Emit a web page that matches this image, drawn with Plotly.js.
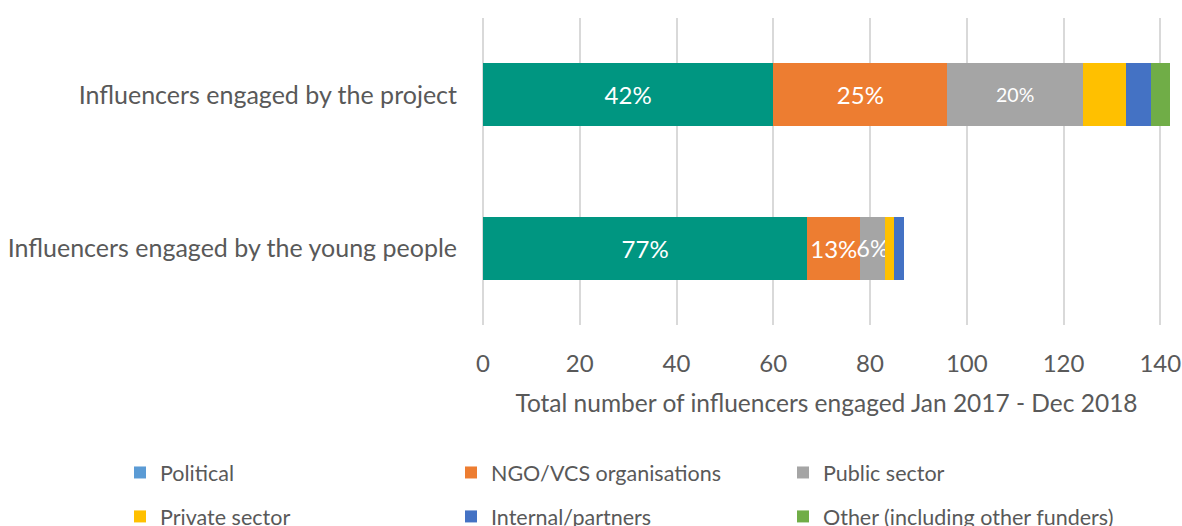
<!DOCTYPE html>
<html>
<head>
<meta charset="utf-8">
<script src="https://cdn.plot.ly/plotly-3.0.1.min.js"></script>
<style>html,body{margin:0;padding:0;background:#fff;}#chart{width:1182px;height:526px;}</style>
</head>
<body>
<div id="chart"></div>
<script>
const categories = ["Influencers engaged by the project", "Influencers engaged by the young people"];
const seriesNames = ["Political", "NGO/VCS organisations", "Public sector", "Private sector", "Internal/partners", "Other (including other funders)"];
const political = [60, 67];
const ngo = [36, 11];
const publicSector = [28, 5];
const privateSector = [9, 2];
const internalPartners = [5, 2];
const other = [4, 0];
const xTicks = [0, 20, 40, 60, 80, 100, 120, 140];
const xTitle = "Total number of influencers engaged Jan 2017 - Dec 2018";

const allSeries = [political, ngo, publicSector, privateSector, internalPartners, other];
const totals = categories.map((c, i) => allSeries.reduce((s, arr) => s + arr[i], 0));
const pct = arr => arr.map((v, i) => Math.round(v / totals[i] * 100) + '%');

const colors = ["#009681", "#ED7D31", "#A5A5A5", "#FFC000", "#4472C4", "#70AD47"];
const legendPoliticalColor = "#5B9BD5";
const font = "Lato, 'Open Sans', sans-serif";
const textCol = "#595959";
// legend column for each series: Political/Private | NGO/Internal | Public/Other
const legendOf = ['legend', 'legend2', 'legend3', 'legend', 'legend2', 'legend3'];

function barTrace(idx, vals, opts) {
  return Object.assign({
    type: 'bar', orientation: 'h', name: seriesNames[idx],
    y: categories, x: vals,
    marker: {color: colors[idx], line: {width: 0}},
    hoverinfo: 'x+name',
    legend: legendOf[idx], legendgroup: 'g' + idx,
    textangle: 0,
    cliponaxis: false
  }, opts || {});
}

const labelOpts = (vals, sizes) => ({
  text: pct(vals), textposition: 'inside', insidetextanchor: 'middle', constraintext: 'none',
  textfont: {color: '#ffffff', size: sizes, family: font}
});

const traces = [
  // legend-only swatch for Political (its legend swatch differs from the bar colour)
  {type: 'bar', orientation: 'h', name: seriesNames[0], y: [null], x: [null],
   marker: {color: legendPoliticalColor}, legend: 'legend', legendgroup: 'g0', hoverinfo: 'skip'},
  barTrace(0, political, Object.assign({showlegend: false}, labelOpts(political, 24))),
  barTrace(1, ngo, labelOpts(ngo, 24)),
  barTrace(2, publicSector, labelOpts(publicSector, [19.5, 23])),
  barTrace(3, privateSector),
  barTrace(4, internalPartners),
  barTrace(5, other)
];

function legendCol(xpx) {
  return {
    orientation: 'v', xref: 'container', yref: 'container',
    x: xpx / 1182, y: 1 - 452 / 526, xanchor: 'left', yanchor: 'top',
    traceorder: 'grouped', tracegroupgap: 13,
    font: {size: 21.5, color: textCol, family: font}, bgcolor: 'rgba(0,0,0,0)'
  };
}

const layout = {
  width: 1182, height: 526,
  margin: {l: 483, r: 12, t: 18, b: 201, autoexpand: false},
  paper_bgcolor: '#ffffff', plot_bgcolor: '#ffffff',
  barmode: 'stack',
  bargap: 0.59,
  font: {family: font, color: textCol, size: 20},
  xaxis: {
    range: [0, 142], tickvals: xTicks, ticktext: xTicks.map(String),
    automargin: false, tickangle: 0,
    showgrid: true, gridcolor: '#d9d9d9', gridwidth: 2,
    zeroline: true, zerolinecolor: '#d9d9d9', zerolinewidth: 2,
    showline: false, ticks: '', ticklabelstandoff: 22,
    tickfont: {size: 24, color: textCol, family: font},
    title: {text: xTitle, font: {size: 24.5, color: textCol, family: font}, standoff: 18}
  },
  yaxis: {
    autorange: 'reversed', type: 'category', automargin: false,
    showgrid: false, zeroline: false, showline: false, ticks: '',
    ticklabelstandoff: 25,
    tickfont: {size: 25, color: textCol, family: font}
  },
  legend: legendCol(120),
  legend2: legendCol(451),
  legend3: legendCol(783),
  showlegend: true
};

Plotly.newPlot('chart', traces, layout, {displayModeBar: false, staticPlot: true});
</script>
</body>
</html>
